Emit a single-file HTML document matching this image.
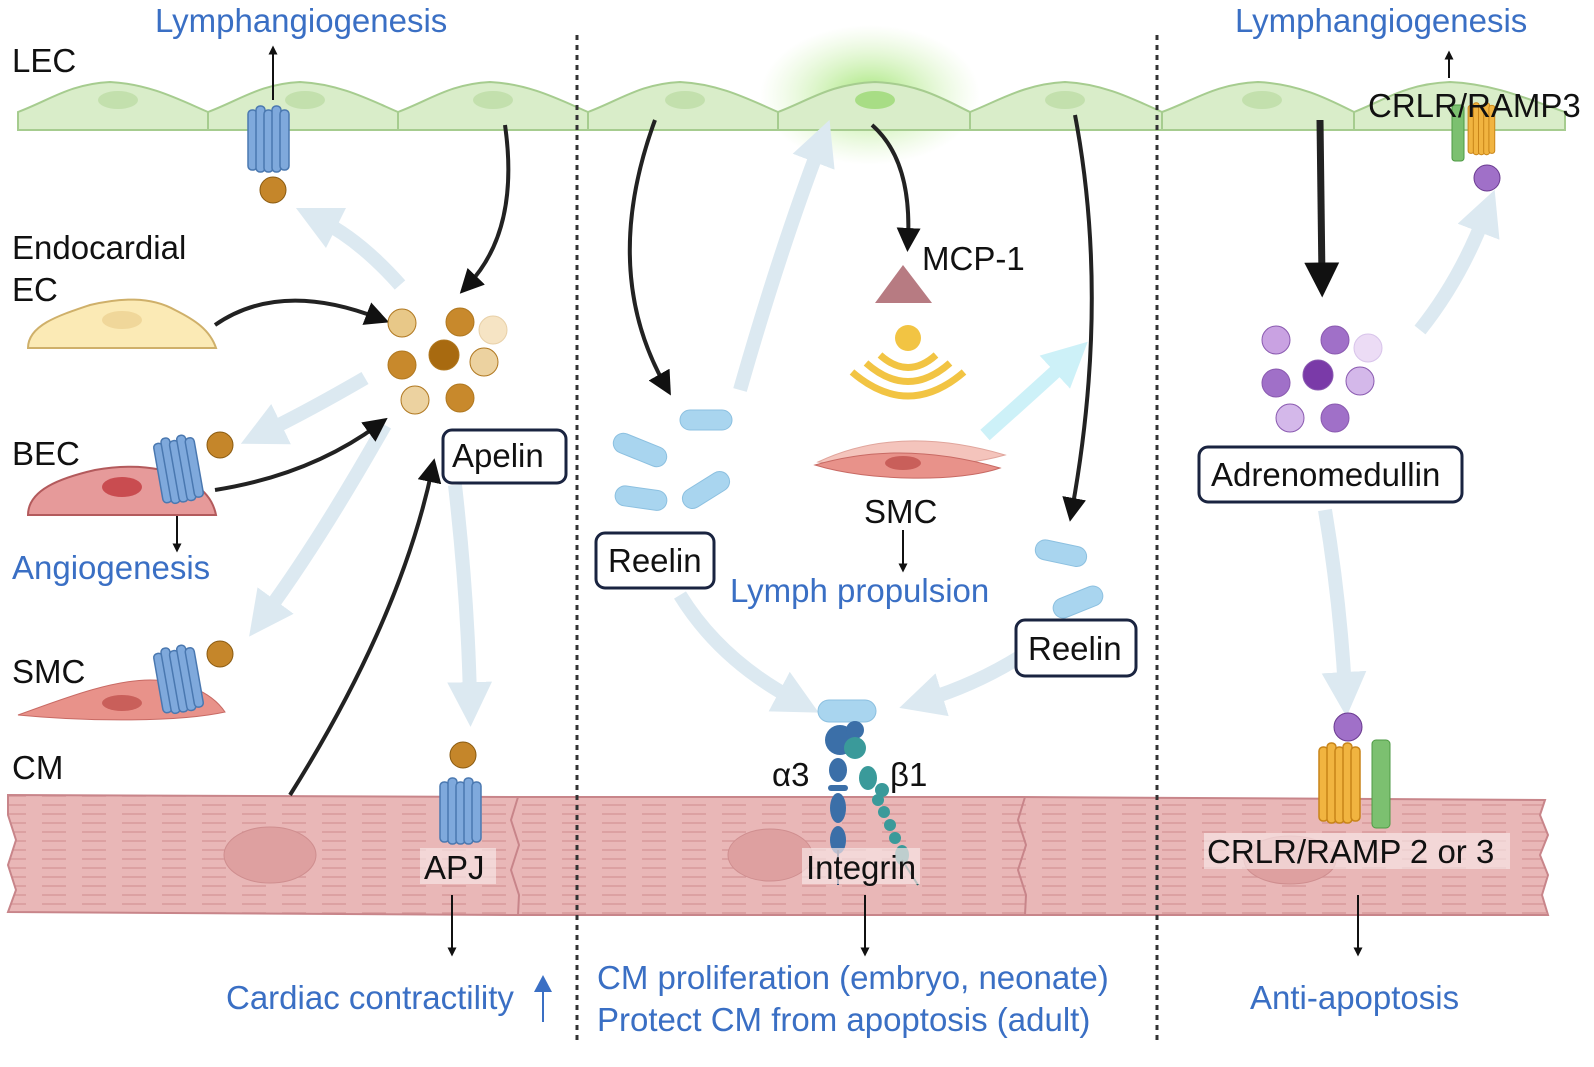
<!DOCTYPE html>
<html><head><meta charset="utf-8"><style>
html,body{margin:0;padding:0;background:#fff;}
svg{display:block;}
text{font-family:"Liberation Sans",Arial,sans-serif;}
.b{fill:#3a6fc4;font-size:33px;}
.k{fill:#111;font-size:33px;}
</style></head><body>
<svg width="1594" height="1067" viewBox="0 0 1594 1067" xmlns="http://www.w3.org/2000/svg">
<defs>
<marker id="ah" viewBox="0 0 10 10" refX="5" refY="5" markerWidth="6" markerHeight="6" orient="auto"><path d="M0,0 L10,5 L0,10 Z" fill="#111"/></marker>
<marker id="ahs" viewBox="0 0 10 10" refX="5" refY="5" markerWidth="9" markerHeight="9" orient="auto" markerUnits="userSpaceOnUse"><path d="M0,0 L10,5 L0,10 Z" fill="#111"/></marker>
<marker id="ahb" viewBox="0 0 10 10" refX="5" refY="5" markerWidth="5" markerHeight="5" orient="auto"><path d="M0,0 L10,5 L0,10 Z" fill="#111"/></marker>
<marker id="la" viewBox="0 0 10 10" refX="4" refY="5" markerWidth="3.2" markerHeight="3.2" orient="auto"><path d="M0,0 L10,5 L0,10 Z" fill="#dce9f1"/></marker>
<marker id="ca" viewBox="0 0 10 10" refX="4" refY="5" markerWidth="3.2" markerHeight="3.2" orient="auto"><path d="M0,0 L10,5 L0,10 Z" fill="#cdf1f8"/></marker>
<radialGradient id="glow"><stop offset="0" stop-color="#9be36a" stop-opacity="0.9"/><stop offset="1" stop-color="#c9f0a8" stop-opacity="0"/></radialGradient>
<pattern id="str" width="40" height="9" patternUnits="userSpaceOnUse"><rect width="40" height="9" fill="#e9b7b7"/><line x1="2" y1="4" x2="26" y2="4" stroke="#d89a9b" stroke-width="1.4"/></pattern>
<g id="rec">
<rect x="-22" y="-30" width="9" height="60" rx="4" fill="#7fa9dc" stroke="#4a78b0" stroke-width="1.5"/>
<rect x="-14" y="-34" width="9" height="66" rx="4" fill="#7fa9dc" stroke="#4a78b0" stroke-width="1.5"/>
<rect x="-6" y="-30" width="9" height="62" rx="4" fill="#7fa9dc" stroke="#4a78b0" stroke-width="1.5"/>
<rect x="2" y="-34" width="9" height="66" rx="4" fill="#7fa9dc" stroke="#4a78b0" stroke-width="1.5"/>
<rect x="10" y="-30" width="9" height="60" rx="4" fill="#7fa9dc" stroke="#4a78b0" stroke-width="1.5"/>
</g>
<g id="orec">
<rect x="-26" y="-38" width="9" height="74" rx="4" fill="#f1b440" stroke="#c88418" stroke-width="1.5"/>
<rect x="-18" y="-42" width="9" height="80" rx="4" fill="#f1b440" stroke="#c88418" stroke-width="1.5"/>
<rect x="-10" y="-38" width="9" height="76" rx="4" fill="#f1b440" stroke="#c88418" stroke-width="1.5"/>
<rect x="-2" y="-42" width="9" height="80" rx="4" fill="#f1b440" stroke="#c88418" stroke-width="1.5"/>
<rect x="6" y="-38" width="9" height="74" rx="4" fill="#f1b440" stroke="#c88418" stroke-width="1.5"/>
</g>
</defs>

<ellipse cx="870" cy="95" rx="110" ry="70" fill="url(#glow)"/>
<g fill="#d9edc9" stroke="#a6cc8f" stroke-width="2">
<path d="M18 130 V112 C50 100 70 84 110 82 C150 84 180 100 208 112 V130 Z"/>
<path d="M208 130 V112 C240 100 260 84 300 82 C340 84 370 100 398 112 V130 Z"/>
<path d="M398 130 V112 C430 100 450 84 490 82 C530 84 560 100 588 112 V130 Z"/>
<path d="M588 130 V112 C620 100 640 84 680 82 C720 84 750 100 778 112 V130 Z"/>
<path d="M778 130 V112 C810 100 830 84 875 82 C920 84 945 100 970 112 V130 Z"/>
<path d="M970 130 V112 C1000 100 1025 84 1065 82 C1105 84 1135 100 1162 112 V130 Z"/>
<path d="M1162 130 V112 C1195 100 1215 84 1258 82 C1300 84 1330 100 1354 112 V130 Z"/>
<path d="M1354 130 V112 C1385 100 1405 84 1450 82 C1495 84 1530 100 1565 112 V130 Z"/>
</g>
<g fill="#c3e0ad">
<ellipse cx="118" cy="100" rx="20" ry="9"/><ellipse cx="305" cy="100" rx="20" ry="9"/><ellipse cx="493" cy="100" rx="20" ry="9"/>
<ellipse cx="685" cy="100" rx="20" ry="9"/><ellipse cx="875" cy="100" rx="20" ry="9" fill="#a8dd85"/><ellipse cx="1065" cy="100" rx="20" ry="9"/>
<ellipse cx="1262" cy="100" rx="20" ry="9"/>
</g>

<path d="M8 795 L515 797 L1020 797 L1545 800 L1540 815 L1548 835 L1540 855 L1548 875 L1542 895 L1548 915 L1020 915 L515 915 L8 912 L16 890 L8 865 L16 840 L8 815 Z" fill="url(#str)" stroke="#c8858a" stroke-width="2"/>
<path d="M518 797 L511 820 L519 845 L511 870 L519 895 L518 915" fill="none" stroke="#c8858a" stroke-width="2"/>
<path d="M1025 797 L1018 820 L1026 845 L1018 870 L1026 895 L1025 915" fill="none" stroke="#c8858a" stroke-width="2"/>
<g fill="#dea0a0" stroke="#cf8e8f"><ellipse cx="270" cy="855" rx="46" ry="28"/><ellipse cx="770" cy="855" rx="42" ry="26"/><ellipse cx="1290" cy="860" rx="46" ry="24"/></g>

<line x1="577" y1="35" x2="577" y2="1045" stroke="#333" stroke-width="3" stroke-dasharray="5,5"/>
<line x1="1157" y1="35" x2="1157" y2="1045" stroke="#333" stroke-width="3" stroke-dasharray="5,5"/>

<g fill="none" stroke="#dce9f1" stroke-width="14">
<path d="M400 285 Q360 240 320 220" marker-end="url(#la)"/>
<path d="M365 378 Q310 410 265 432" marker-end="url(#la)"/>
<path d="M385 425 Q320 540 265 615" marker-end="url(#la)"/>
<path d="M455 485 Q468 600 470 700" marker-end="url(#la)"/>
<path d="M740 390 Q780 250 820 145" marker-end="url(#la)"/>
<path d="M680 595 Q720 660 795 700" marker-end="url(#la)"/>
<path d="M1045 640 Q990 680 925 700" marker-end="url(#la)"/>
<path d="M1325 510 Q1340 600 1345 690" marker-end="url(#la)"/>
<path d="M1420 330 Q1460 280 1485 215" marker-end="url(#la)"/>
<path d="M985 435 Q1030 395 1068 360" stroke="#cdf1f8" marker-end="url(#ca)"/>
</g>

<g fill="none" stroke="#222" stroke-width="4">
<path d="M505 125 Q520 230 468 285" marker-end="url(#ah)"/>
<path d="M215 325 Q280 280 378 318" marker-end="url(#ah)"/>
<path d="M215 490 Q310 475 378 425" marker-end="url(#ah)"/>
<path d="M290 795 Q400 620 432 470" marker-end="url(#ah)"/>
<path d="M655 120 Q600 270 665 385" marker-end="url(#ah)"/>
<path d="M872 125 Q912 160 908 240" marker-end="url(#ah)"/>
<path d="M1075 115 Q1110 300 1072 510" marker-end="url(#ah)"/>
<path d="M1320 120 L1322 280" stroke-width="7" marker-end="url(#ahb)"/>
</g>
<g fill="none" stroke="#111" stroke-width="2">
<path d="M273 100 V50" marker-end="url(#ahs)"/>
<path d="M177 505 V548" marker-end="url(#ahs)"/>
<path d="M452 895 V952" marker-end="url(#ahs)"/>
<path d="M903 530 V568" marker-end="url(#ahs)"/>
<path d="M865 895 V952" marker-end="url(#ahs)"/>
<path d="M1358 895 V952" marker-end="url(#ahs)"/>
<path d="M1449 78 V55" marker-end="url(#ahs)"/>
</g>
<line x1="543" y1="1022" x2="543" y2="985" stroke="#3a6fc4" stroke-width="2"/>
<path d="M534 992 L543 975 L552 992 Z" fill="#3a6fc4"/>

<path d="M28 348 C28 325 60 315 90 305 C120 298 150 296 175 310 C195 320 210 330 216 348 Z" fill="#fbeab5" stroke="#cfb06a" stroke-width="2"/>
<ellipse cx="122" cy="320" rx="20" ry="9" fill="#f0d79a"/>
<path d="M28 515 C28 490 60 478 95 470 C130 464 160 466 185 478 C205 490 213 500 216 515 Z" fill="#e69a9a" stroke="#b35a5c" stroke-width="2"/>
<ellipse cx="122" cy="487" rx="20" ry="10" fill="#c94c50"/>
<path d="M18 715 C60 700 110 680 150 680 C180 680 210 690 225 712 C180 722 90 722 18 715 Z" fill="#e8928a" stroke="#c86a64" stroke-width="1"/>
<ellipse cx="122" cy="703" rx="20" ry="8" fill="#c95f5a"/>
<path d="M818 462 C860 442 920 430 1005 455 C960 468 880 470 818 462 Z" fill="#f4c4bc" stroke="#e0a59c"/>
<path d="M815 465 C860 452 920 445 1000 468 C960 482 870 482 815 465 Z" fill="#e8928a" stroke="#c86a64"/>
<ellipse cx="903" cy="463" rx="18" ry="7" fill="#c95f5a"/>

<use href="#rec" x="270" y="140"/><circle cx="273" cy="190" r="13" fill="#c5862a" stroke="#8a5a10"/>
<use href="#rec" x="180" y="470" transform="rotate(-10 180 470)"/><circle cx="220" cy="445" r="13" fill="#c5862a" stroke="#8a5a10"/>
<use href="#rec" x="180" y="680" transform="rotate(-10 180 680)"/><circle cx="220" cy="654" r="13" fill="#c5862a" stroke="#8a5a10"/>
<use href="#rec" x="462" y="812"/><circle cx="463" cy="755" r="13" fill="#c5862a" stroke="#8a5a10"/>

<g stroke="#b07820" stroke-width="1">
<circle cx="402" cy="323" r="14" fill="#e8c888"/><circle cx="460" cy="322" r="14" fill="#c8892c"/><circle cx="493" cy="330" r="14" fill="#f6e4c4" stroke="#e8d0a8"/>
<circle cx="402" cy="365" r="14" fill="#c8892c"/><circle cx="444" cy="355" r="15" fill="#a86a10"/><circle cx="484" cy="362" r="14" fill="#ecd2a0"/>
<circle cx="415" cy="400" r="14" fill="#ecd2a0"/><circle cx="460" cy="398" r="14" fill="#c8892c"/>
</g>

<g fill="#a9d5ef" stroke="#8cc0e0">
<rect x="680" y="410" width="52" height="20" rx="10"/>
<rect x="612" y="440" width="56" height="20" rx="10" transform="rotate(22 640 450)"/>
<rect x="615" y="488" width="52" height="20" rx="10" transform="rotate(8 640 498)"/>
<rect x="680" y="480" width="52" height="20" rx="10" transform="rotate(-32 706 490)"/>
<rect x="1035" y="543" width="52" height="20" rx="10" transform="rotate(12 1060 553)"/>
<rect x="1052" y="592" width="52" height="20" rx="10" transform="rotate(-22 1078 602)"/>
</g>

<path d="M875 303 L903 265 L932 303 Z" fill="#b77b82"/>
<circle cx="908" cy="338" r="13" fill="#f2c443"/>
<g fill="none" stroke="#f2c443" stroke-width="7">
<path d="M880 355 Q908 380 936 355"/>
<path d="M866 363 Q908 400 950 363"/>
<path d="M852 372 Q908 420 964 372"/>
</g>

<rect x="818" y="700" width="58" height="22" rx="11" fill="#a9d5ef" stroke="#8cc0e0"/>
<g fill="#3b6fa8"><circle cx="840" cy="740" r="15"/><circle cx="855" cy="730" r="9"/><ellipse cx="838" cy="770" rx="9" ry="12"/><rect x="828" y="785" width="20" height="6" rx="3"/><ellipse cx="838" cy="808" rx="8" ry="15"/><ellipse cx="838" cy="840" rx="8" ry="14"/></g>
<line x1="838" y1="850" x2="838" y2="885" stroke="#2a4c70" stroke-width="2"/>
<g fill="#3a9a9a"><circle cx="855" cy="748" r="11"/><ellipse cx="868" cy="778" rx="9" ry="12"/><circle cx="882" cy="790" r="7"/><circle cx="878" cy="800" r="6"/><circle cx="884" cy="812" r="6"/><circle cx="890" cy="825" r="6"/><circle cx="895" cy="838" r="6"/><ellipse cx="902" cy="855" rx="7" ry="10"/></g>
<line x1="902" y1="860" x2="918" y2="885" stroke="#2a6a6a" stroke-width="2"/>

<g stroke="#8a5ab0" stroke-width="1">
<circle cx="1276" cy="340" r="14" fill="#c9a2e2"/><circle cx="1335" cy="340" r="14" fill="#a070c8"/><circle cx="1368" cy="348" r="14" fill="#ecdcf5" stroke="#d8c4ea"/>
<circle cx="1276" cy="383" r="14" fill="#a070c8"/><circle cx="1318" cy="375" r="15" fill="#7a3aa8"/><circle cx="1360" cy="381" r="14" fill="#d4b8ea"/>
<circle cx="1290" cy="418" r="14" fill="#d4b8ea"/><circle cx="1335" cy="418" r="14" fill="#a070c8"/>
</g>
<use href="#orec" x="1345" y="785"/>
<rect x="1372" y="740" width="18" height="88" rx="4" fill="#7cc070" stroke="#4e9a44"/>
<circle cx="1348" cy="727" r="14" fill="#a070c8" stroke="#6a3a90"/>
<g transform="translate(1485 130) scale(0.65)"><use href="#orec"/></g>
<rect x="1452" y="105" width="12" height="56" rx="3" fill="#7cc070" stroke="#4e9a44"/>
<circle cx="1487" cy="178" r="13" fill="#a070c8" stroke="#6a3a90"/>

<g fill="#fff" stroke="#1a2440" stroke-width="3">
<rect x="443" y="430" width="123" height="53" rx="9"/>
<rect x="596" y="533" width="118" height="55" rx="9"/>
<rect x="1016" y="620" width="120" height="56" rx="9"/>
<rect x="1199" y="447" width="263" height="55" rx="9"/>
</g>

<text class="b" x="155" y="32">Lymphangiogenesis</text>
<text class="b" x="1235" y="32">Lymphangiogenesis</text>
<text class="k" x="12" y="72">LEC</text>
<text class="k" x="12" y="259">Endocardial</text>
<text class="k" x="12" y="301">EC</text>
<text class="k" x="12" y="465">BEC</text>
<text class="b" x="12" y="579">Angiogenesis</text>
<text class="k" x="12" y="683">SMC</text>
<text class="k" x="12" y="779">CM</text>
<text class="k" x="452" y="467" font-size="34">Apelin</text>
<text class="k" x="608" y="572" font-size="34">Reelin</text>
<text class="k" x="1028" y="660" font-size="34">Reelin</text>
<text class="k" x="1211" y="486" font-size="34">Adrenomedullin</text>
<text class="k" x="922" y="270">MCP-1</text>
<text class="k" x="864" y="523">SMC</text>
<text class="b" x="730" y="602">Lymph propulsion</text>
<text class="k" x="772" y="786">α3</text>
<text class="k" x="890" y="786">β1</text>
<rect x="420" y="848" width="76" height="36" fill="#f6e4e4" opacity="0.7"/>
<text class="k" x="424" y="879" font-size="34">APJ</text>
<rect x="802" y="848" width="118" height="36" fill="#f6e4e4" opacity="0.7"/>
<text class="k" x="806" y="879">Integrin</text>
<rect x="1204" y="833" width="306" height="36" fill="#f6e4e4" opacity="0.7"/>
<text class="k" x="1207" y="863">CRLR/RAMP 2 or 3</text>
<text class="k" x="1368" y="117" font-size="28">CRLR/RAMP3</text>
<text class="b" x="226" y="1009">Cardiac contractility</text>
<text class="b" x="597" y="989">CM proliferation (embryo, neonate)</text>
<text class="b" x="597" y="1031">Protect CM from apoptosis (adult)</text>
<text class="b" x="1250" y="1009">Anti-apoptosis</text>
</svg>
</body></html>
